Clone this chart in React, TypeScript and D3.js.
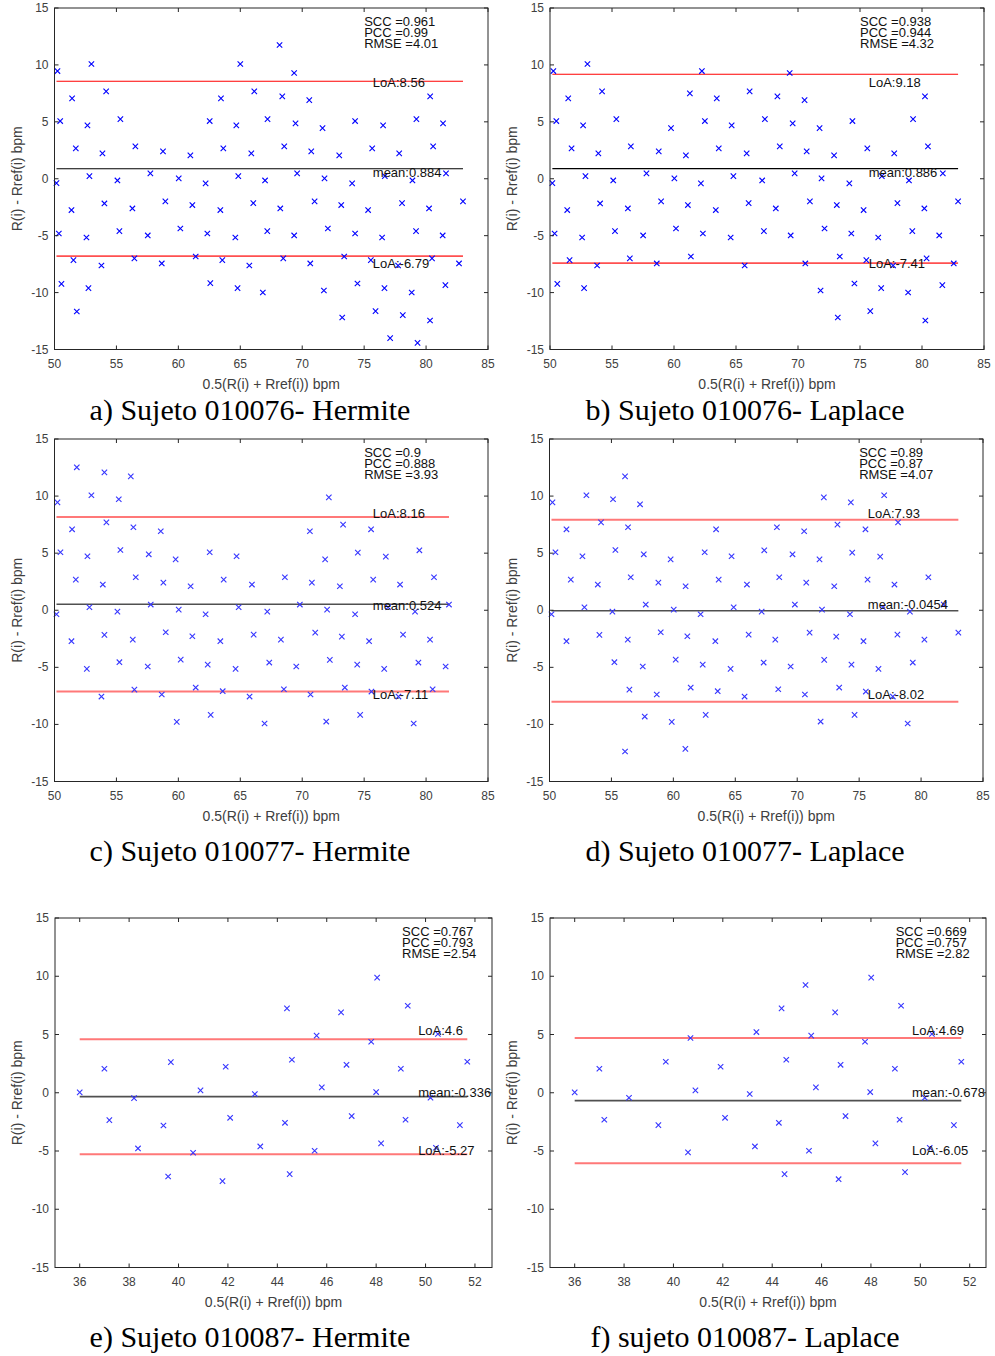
import React from 'react';
import * as d3 from 'd3';

// points: [0.5(R + Rref), R - Rref]
const pointsA: [number, number][] = [
  [50.24, 9.46], [52.98, 10.08], [50.46, 5.07], [51.42, 7.06], [54.17, 7.68], [51.72, 2.67], [52.66, 4.69], [55.32, 5.24], [53.87, 2.23], [56.53, 2.84], [58.76, 2.4], [60.97, 2.05], [62.53, 5.07], [63.44, 7.06], [63.63, 2.67], [65.0, 10.08], [64.68, 4.69], [66.13, 7.68], [65.89, 2.23],
  [50.16, -0.38], [52.82, 0.23], [55.08, -0.15], [57.74, 0.47], [60.03, 0.03], [62.2, -0.41], [64.84, 0.23],
  [51.37, -2.75], [54.03, -2.17], [56.29, -2.61], [58.95, -1.99], [61.13, -2.31], [63.39, -2.75], [66.05, -2.14],
  [50.35, -4.81], [52.58, -5.16], [55.24, -4.6], [57.53, -4.98], [60.16, -4.37], [62.34, -4.81], [64.6, -5.16],
  [51.53, -7.15], [53.79, -7.62], [56.45, -7.0], [58.66, -7.44], [61.4, -6.83], [63.55, -7.15], [65.73, -7.62],
  [50.56, -9.23], [52.74, -9.61], [62.58, -9.17], [64.78, -9.61], [51.8, -11.66],
  [68.17, 11.75], [69.35, 9.29], [68.39, 7.24], [70.57, 6.91], [80.33, 7.24], [67.2, 5.24], [69.46, 4.86], [71.64, 4.45], [74.27, 5.07], [76.53, 4.69], [79.22, 5.24], [81.37, 4.86],
  [68.55, 2.84], [70.73, 2.4], [72.99, 2.05], [75.65, 2.67], [77.83, 2.23], [80.57, 2.84],
  [69.59, 0.47], [71.8, 0.03], [74.03, -0.41], [76.67, 0.23], [78.9, -0.15], [81.61, 0.47], [67.0, -0.15],
  [68.23, -2.61], [71.0, -1.99], [73.15, -2.31], [75.32, -2.75], [78.06, -2.14], [80.24, -2.61], [82.98, -1.99],
  [67.18, -4.6], [69.35, -4.98], [72.07, -4.37], [74.27, -4.81], [76.45, -5.16], [79.19, -4.6], [81.34, -4.98],
  [68.47, -7.0], [70.65, -7.44], [73.39, -6.83], [75.54, -7.15], [77.74, -7.62], [80.48, -7.0], [82.66, -7.44],
  [66.82, -9.99], [71.75, -9.82], [74.46, -9.2], [76.64, -9.61], [78.84, -9.99], [81.56, -9.35],
  [73.23, -12.19], [75.92, -11.63], [78.12, -11.98], [80.32, -12.45], [77.1, -14.0], [79.31, -14.42],
];

const pointsB: [number, number][] = [
  [50.27, 9.46], [53.02, 10.08], [50.51, 5.07], [51.47, 7.06], [54.2, 7.68], [51.74, 2.67], [52.67, 4.69], [55.35, 5.24], [53.9, 2.23], [56.52, 2.84], [58.77, 2.4], [59.76, 4.45], [60.96, 2.05], [61.28, 7.5], [62.25, 9.46], [62.49, 5.07], [63.45, 7.06], [63.61, 2.67], [64.65, 4.69], [66.1, 7.68], [65.86, 2.23],
  [50.19, -0.38], [52.86, 0.23], [55.1, -0.15], [57.78, 0.47], [60.03, 0.03], [62.17, -0.41], [64.79, 0.23],
  [51.39, -2.75], [54.04, -2.17], [56.28, -2.61], [58.96, -1.99], [61.12, -2.31], [63.37, -2.75], [66.02, -2.14],
  [50.37, -4.81], [52.59, -5.16], [55.24, -4.6], [57.51, -4.98], [60.16, -4.37], [62.33, -4.81], [64.57, -5.16],
  [51.58, -7.15], [53.8, -7.62], [56.44, -7.0], [58.61, -7.44], [61.36, -6.83], [65.7, -7.62],
  [50.59, -9.23], [52.75, -9.61],
  [69.33, 9.29], [68.34, 7.24], [70.53, 6.91], [80.24, 7.24], [67.33, 5.24], [69.57, 4.86], [71.74, 4.45], [74.39, 5.07], [79.28, 5.24],
  [68.53, 2.84], [70.7, 2.4], [72.91, 2.05], [75.59, 2.67], [77.76, 2.23], [80.48, 2.84],
  [69.73, 0.47], [71.9, 0.03], [74.14, -0.41], [76.76, 0.23], [78.95, -0.15], [81.68, 0.47], [67.11, -0.15],
  [68.21, -2.61], [70.96, -1.99], [73.13, -2.31], [75.29, -2.75], [78.02, -2.14], [80.19, -2.61], [82.91, -1.99],
  [67.25, -4.6], [69.41, -4.98], [72.14, -4.37], [74.3, -4.81], [76.47, -5.16], [79.22, -4.6], [81.39, -4.98],
  [70.59, -7.44], [73.37, -6.83], [75.51, -7.15], [77.67, -7.62], [80.37, -7.0], [82.56, -7.44],
  [71.82, -9.82], [74.55, -9.2], [76.71, -9.61], [78.88, -9.99], [81.64, -9.35],
  [73.21, -12.19], [75.83, -11.63], [80.27, -12.45],
];

const pointsC: [number, number][] = [
  [50.24, 9.45], [51.8, 12.52], [52.98, 10.07], [54.03, 12.08], [55.19, 9.72], [56.16, 11.73], [51.42, 7.09], [54.19, 7.7], [56.37, 7.27], [58.58, 6.92],
  [50.48, 5.08], [52.66, 4.73], [55.32, 5.28], [57.61, 4.9], [59.78, 4.46], [62.53, 5.08], [64.7, 4.73],
  [51.72, 2.68], [53.9, 2.25], [56.56, 2.89], [58.79, 2.42], [60.99, 2.1], [63.66, 2.68], [65.94, 2.25],
  [50.16, -0.35], [52.82, 0.26], [55.08, -0.12], [57.77, 0.5], [60.03, 0.06], [62.2, -0.35], [64.87, 0.26],
  [51.37, -2.71], [54.03, -2.16], [56.32, -2.57], [58.98, -1.93], [61.13, -2.28], [63.39, -2.71], [66.08, -2.13],
  [52.61, -5.14], [55.24, -4.55], [57.53, -4.93], [60.19, -4.32], [62.37, -4.76], [64.62, -5.14],
  [53.79, -7.56], [56.45, -6.95], [58.66, -7.38], [61.4, -6.77], [63.58, -7.09], [65.75, -7.56],
  [59.87, -9.78], [62.61, -9.16],
  [72.15, 9.89], [70.62, 6.92], [73.3, 7.5], [75.56, 7.09], [71.85, 4.46], [74.49, 5.05], [76.75, 4.7], [79.46, 5.25],
  [68.6, 2.89], [70.78, 2.42], [73.04, 2.1], [75.73, 2.68], [77.9, 2.25], [80.64, 2.89],
  [69.81, 0.5], [72.01, 0.06], [74.27, -0.35], [76.94, 0.26], [79.11, -0.12], [81.85, 0.5], [67.18, -0.12],
  [68.28, -2.57], [71.05, -1.96], [73.2, -2.31], [75.4, -2.71], [78.14, -2.13], [80.32, -2.57],
  [67.34, -4.58], [69.52, -4.93], [72.23, -4.35], [74.44, -4.76], [76.62, -5.14], [79.38, -4.58], [81.58, -4.93],
  [68.52, -6.92], [70.67, -7.38], [73.44, -6.77], [75.59, -7.12], [77.77, -7.56], [80.53, -6.92],
  [66.96, -9.92], [71.94, -9.75], [74.68, -9.16], [79.0, -9.92],
];

const pointsD: [number, number][] = [
  [50.24, 9.45], [52.98, 10.07], [55.13, 9.72], [56.1, 11.73], [57.31, 9.28], [51.37, 7.09], [54.16, 7.7], [56.34, 7.27], [63.45, 7.09],
  [50.48, 5.08], [52.66, 4.73], [55.32, 5.28], [57.61, 4.9], [59.78, 4.46], [62.53, 5.08], [64.7, 4.73],
  [51.72, 2.68], [53.9, 2.25], [56.56, 2.89], [58.79, 2.42], [60.99, 2.1], [63.66, 2.68], [65.94, 2.25],
  [50.16, -0.35], [52.82, 0.26], [55.08, -0.12], [57.77, 0.5], [60.03, 0.06], [62.2, -0.35], [64.87, 0.26],
  [51.37, -2.71], [54.03, -2.16], [56.32, -2.57], [58.98, -1.93], [61.13, -2.28], [63.39, -2.71], [66.08, -2.13],
  [55.24, -4.55], [57.53, -4.93], [60.19, -4.32], [62.37, -4.76], [64.62, -5.14],
  [56.45, -6.95], [58.66, -7.38], [61.4, -6.77], [63.58, -7.09], [65.75, -7.56],
  [57.69, -9.31], [59.87, -9.78], [62.61, -9.16], [56.1, -12.37], [60.97, -12.14],
  [72.15, 9.89], [74.33, 9.45], [77.02, 10.07], [68.36, 7.27], [70.56, 6.92], [73.25, 7.5], [75.51, 7.09], [78.14, 7.7],
  [67.34, 5.25], [69.62, 4.9], [71.8, 4.46], [74.44, 5.05], [76.7, 4.7],
  [68.55, 2.89], [70.73, 2.42], [72.99, 2.1], [75.68, 2.68], [77.85, 2.25], [80.59, 2.89],
  [69.81, 0.5], [72.0, 0.06], [74.26, -0.35], [76.92, 0.26], [79.1, -0.12], [81.83, 0.5], [67.13, -0.12],
  [68.23, -2.57], [71.0, -1.96], [73.15, -2.31], [75.35, -2.71], [78.09, -2.13], [80.27, -2.57], [83.01, -1.96],
  [67.29, -4.58], [69.47, -4.93], [72.18, -4.35], [74.38, -4.76], [76.56, -5.14], [79.33, -4.58],
  [68.47, -6.92], [70.62, -7.38], [73.39, -6.77], [75.54, -7.12], [77.72, -7.56],
  [71.89, -9.75], [74.63, -9.16], [78.92, -9.92],
];

const pointsE: [number, number][] = [
  [36.0, 0.03], [37.0, 2.06], [37.2, -2.35], [38.2, -0.46], [38.36, -4.78], [39.69, 2.63], [39.39, -2.81], [39.58, -7.19],
  [40.59, -5.15], [40.89, 0.2], [41.91, 2.23], [42.09, -2.15], [41.78, -7.59], [43.09, -0.11], [43.31, -4.61],
  [44.39, 7.24], [44.59, 2.83], [44.31, -2.58], [44.5, -6.99], [45.59, 4.9], [45.8, 0.46], [45.51, -4.98],
  [46.58, 6.9], [46.8, 2.4], [47.01, -2.0], [48.04, 9.88], [47.8, 4.38], [48.0, 0.06], [48.2, -4.35],
  [49.28, 7.47], [49.0, 2.06], [49.19, -2.32], [50.5, 5.04], [50.2, -0.43], [50.42, -4.72], [51.69, 2.66], [51.39, -2.78],
];

const pointsF: [number, number][] = [
  [36.0, 0.03], [37.0, 2.06], [37.2, -2.32], [38.2, -0.43], [39.69, 2.66], [39.39, -2.78], [40.69, 4.7], [40.59, -5.12],
  [40.89, 0.2], [41.91, 2.23], [42.09, -2.15], [43.09, -0.11], [43.36, 5.21], [43.3, -4.61],
  [44.38, 7.24], [44.57, 2.83], [44.27, -2.58], [44.5, -6.99], [45.35, 9.25], [45.58, 4.9], [45.77, 0.46], [45.49, -4.98],
  [46.55, 6.9], [46.77, 2.4], [46.97, -2.0], [46.69, -7.42], [48.01, 9.88], [47.76, 4.38], [47.97, 0.06], [48.18, -4.35],
  [49.22, 7.47], [48.97, 2.06], [49.16, -2.32], [49.38, -6.81], [50.47, 5.04], [50.18, -0.43], [50.38, -4.72], [51.66, 2.66], [51.36, -2.78],
];

const sccValues = ['0.961', '0.938', '0.9', '0.89', '0.767', '0.669'];
const pccValues = ['0.99', '0.944', '0.888', '0.87', '0.793', '0.757'];
const rmseValues = ['4.01', '4.32', '3.93', '4.07', '2.54', '2.82'];
const loaUpper = [8.56, 9.18, 8.16, 7.93, 4.6, 4.69];
const meanDiff = [0.884, 0.886, 0.524, -0.0454, -0.336, -0.678];
const loaLower = [-6.79, -7.41, -7.11, -8.02, -5.27, -6.05];
const captions = [
  'a) Sujeto 010076- Hermite',
  'b) Sujeto 010076- Laplace',
  'c) Sujeto 010077- Hermite',
  'd) Sujeto 010077- Laplace',
  'e) Sujeto 010087- Hermite',
  'f) sujeto 010087- Laplace',
];
const yTicks = [-15, -10, -5, 0, 5, 10, 15];
const xTicksWide = [50, 55, 60, 65, 70, 75, 80, 85];
const xTicksNarrow = [36, 38, 40, 42, 44, 46, 48, 50, 52];

const allPoints = [pointsA, pointsB, pointsC, pointsD, pointsE, pointsF];

// layout of each panel (pixels) and where its annotations sit (data units)
const panels = [
  { left: 54.5, top: 8, right: 488, bottom: 349.5, xDomain: [50, 85], xTicks: xTicksWide, capX: 250, capY: 420, textX: 75.7, statX: 75, textY: [8.05, 0.12, -7.8], light: false },
  { left: 550, top: 8, right: 984, bottom: 349.5, xDomain: [50, 85], xTicks: xTicksWide, capX: 745, capY: 420, textX: 75.7, statX: 75, textY: [8.05, 0.12, -7.8], light: false },
  { left: 54.5, top: 439, right: 488, bottom: 781.5, xDomain: [50, 85], xTicks: xTicksWide, capX: 250, capY: 861, textX: 75.7, statX: 75, textY: [8.05, 0.05, -7.79], light: true },
  { left: 549.5, top: 439, right: 983, bottom: 781.5, xDomain: [50, 85], xTicks: xTicksWide, capX: 745, capY: 861, textX: 75.7, statX: 75, textY: [8.05, 0.08, -7.79], light: true },
  { left: 55, top: 918, right: 492, bottom: 1267.5, xDomain: [35, 52.69], xTicks: xTicksNarrow, capX: 250, capY: 1347, textX: 49.7, statX: 49.05, textY: [4.96, -0.34, -5.35], light: true },
  { left: 550, top: 918, right: 986, bottom: 1267.5, xDomain: [35, 52.66], xTicks: xTicksNarrow, capX: 745, capY: 1347, textX: 49.66, statX: 49.0, textY: [4.96, -0.34, -5.35], light: true },
];

const sans = "'Liberation Sans', Arial, sans-serif";
const serif = "'Liberation Serif', 'Times New Roman', serif";
const axisColor = '#262626';
const tickText = '#404040';

function Panel({ idx }: { idx: number }) {
  const p = panels[idx];
  const pts = allPoints[idx];
  const x = d3.scaleLinear().domain(p.xDomain).range([p.left, p.right]);
  const y = d3.scaleLinear().domain([-15, 15]).range([p.bottom, p.top]);
  const [x0, x1] = d3.extent(pts, (d) => d[0]) as [number, number];
  const upperColor = p.light ? '#ff7878' : '#ff0000';
  const lowerColor = p.light ? '#ff7878' : '#ff5050';
  const meanColor = p.light ? '#505050' : '#000000';
  const lw = p.light ? 2 : 1.2;
  const markColor = p.light ? '#3535ff' : '#0000ff';
  const s = 2.7;
  const tl = 4;
  return (
    <g>
      {/* reference lines */}
      <line x1={x(x0)} x2={x(x1)} y1={y(loaUpper[idx])} y2={y(loaUpper[idx])} stroke={upperColor} strokeWidth={p.light ? lw : 1.1} />
      <line x1={x(x0)} x2={x(x1)} y1={y(meanDiff[idx])} y2={y(meanDiff[idx])} stroke={meanColor} strokeWidth={p.light ? 1.6 : 1.1} />
      <line x1={x(x0)} x2={x(x1)} y1={y(loaLower[idx])} y2={y(loaLower[idx])} stroke={lowerColor} strokeWidth={p.light ? lw : 1.8} />
      {/* markers */}
      <g stroke={markColor} strokeWidth={1.1} fill="none">
        {pts.map((d, i) => (
          <path key={i} transform={`translate(${x(d[0])},${y(d[1])})`} d={`M${-s},${-s}L${s},${s}M${-s},${s}L${s},${-s}`} />
        ))}
      </g>
      {/* line labels */}
      <g fontFamily={sans} fontSize={13} fill="#111">
        <text x={x(p.textX)} y={y(p.textY[0])}>{`LoA:${loaUpper[idx]}`}</text>
        <text x={x(p.textX)} y={y(p.textY[1])}>{`mean:${meanDiff[idx]}`}</text>
        <text x={x(p.textX)} y={y(p.textY[2])}>{`LoA:${loaLower[idx]}`}</text>
      </g>
      {/* stats */}
      <g fontFamily={sans} fontSize={13} fill="#111">
        <text x={x(p.statX)} y={p.top + 18}>{`SCC =${sccValues[idx]}`}</text>
        <text x={x(p.statX)} y={p.top + 29}>{`PCC =${pccValues[idx]}`}</text>
        <text x={x(p.statX)} y={p.top + 40}>{`RMSE =${rmseValues[idx]}`}</text>
      </g>
      {/* box */}
      <rect x={p.left} y={p.top} width={p.right - p.left} height={p.bottom - p.top} fill="none" stroke={axisColor} strokeWidth={1} />
      {/* ticks */}
      <g stroke={axisColor} strokeWidth={1}>
        {yTicks.map((t) => (
          <g key={`y${t}`}>
            <line x1={p.left} x2={p.left + tl} y1={y(t)} y2={y(t)} />
            <line x1={p.right} x2={p.right - tl} y1={y(t)} y2={y(t)} />
          </g>
        ))}
        {p.xTicks.map((t) => (
          <g key={`x${t}`}>
            <line x1={x(t)} x2={x(t)} y1={p.bottom} y2={p.bottom - tl} />
            <line x1={x(t)} x2={x(t)} y1={p.top} y2={p.top + tl} />
          </g>
        ))}
      </g>
      <g fontFamily={sans} fontSize={12} fill={tickText}>
        {yTicks.map((t) => (
          <text key={`yl${t}`} x={p.left - 6} y={y(t)} textAnchor="end" dominantBaseline="central">{t}</text>
        ))}
        {p.xTicks.map((t) => (
          <text key={`xl${t}`} x={x(t)} y={p.bottom + 14} textAnchor="middle" dominantBaseline="central">{t}</text>
        ))}
      </g>
      <text x={(p.left + p.right) / 2} y={p.bottom + 34} textAnchor="middle" dominantBaseline="central" fontFamily={sans} fontSize={14} fill={tickText}>
        0.5(R(i) + Rref(i)) bpm
      </text>
      <text transform={`translate(${p.left - 38},${(p.top + p.bottom) / 2}) rotate(-90)`} textAnchor="middle" dominantBaseline="central" fontFamily={sans} fontSize={14} fill={tickText}>
        R(i) - Rref(i) bpm
      </text>
      <text x={p.capX} y={p.capY} textAnchor="middle" fontFamily={serif} fontSize={30} fill="#000">
        {captions[idx]}
      </text>
    </g>
  );
}

export default function App() {
  return (
    <svg width={995} height={1356} style={{ position: 'absolute', left: 0, top: 0, background: '#fff' }}>
      <rect width={995} height={1356} fill="#fff" />
      {panels.map((_, i) => (
        <Panel key={i} idx={i} />
      ))}
    </svg>
  );
}
